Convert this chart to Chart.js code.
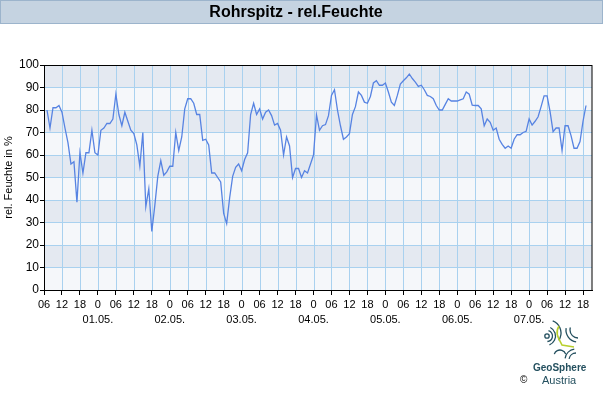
<!DOCTYPE html>
<html><head><meta charset="utf-8">
<script src="https://cdn.jsdelivr.net/npm/chart.js@4/dist/chart.umd.min.js"></script>
<style>
html,body{margin:0;padding:0;background:#fff;}
#wrap{position:relative;width:603px;height:400px;overflow:hidden;}
canvas{position:absolute;left:0;top:0;}
.logo{position:absolute;font-family:'Liberation Sans',Arial,sans-serif;color:#24505f;white-space:nowrap;line-height:1;}
</style></head><body>
<div id="wrap">
<canvas id="c" width="603" height="400"></canvas>
<div class="logo" style="left:533px;top:363px;font-size:10px;font-weight:bold;">GeoSphere</div>
<div class="logo" style="left:542px;top:375px;font-size:11px;">Austria</div>
<div class="logo" style="left:520px;top:375px;font-size:10px;color:#000">©</div>
</div>
<script>
// hourly relative humidity (%), first value at 30.04. 07:00
const relFeuchte = [
 80,72,81,81,82,79,72,65.5,56,57,
 39,61,52,61,61,71,61,60,71,72,
 74,74,76,87,78,73,79,75,71,69.5,
 64.5,55,70,37,45,26,37.5,50.5,57.5,51,
 52.5,55,55,70,62,68,80.5,85,85,83,
 78,78,66.5,67,64.5,52,52,50,48,34,
 29.5,41,50.5,54.5,56,53,58,61,78,83,
 78,80.5,76,79,80,77.5,73.3,74,71,60,
 68,64,50,54,54,50,53,52,56,60,
 77.8,71,73,73.5,77.5,86.5,89,80,73,67,
 68,69.5,78,81.5,88,86.5,83.5,83,86,92,
 93,91,91,92,88,83.5,82,86.5,91.5,93,
 94.3,96,94,92.4,90.5,91,89,86.5,86,85,
 82,80,80,82.5,85,84,84,84,84.5,85,
 88,87,82.2,82,82,80.5,73,76,74.5,71,
 72,67,64.7,63,64,63,67,69,69,70,
 70.5,76,73.3,75,77,81.5,86.3,86.3,79.3,70.4,
 72,72,62,73,73,68.6,63,63,66,75,82
];
const dayLabels = ['01.05.','02.05.','03.05.','04.05.','05.05.','06.05.','07.05.'];
const hourLabels = {0:'0',6:'06',12:'12',18:'18'};
const axisStartClock = 6;   // x axis starts 30.04. 06:00
const firstObsHour = 1;     // first observation 07:00
const axisHours = 183;

const F = "'Liberation Sans', Arial, sans-serif";
const GRID = '#a9d1ef';
const points = relFeuchte.map((v,i)=>({x:firstObsHour+i, y:v}));

const deco = {
  id:'deco',
  beforeDraw(chart){
    const {ctx, chartArea:a, scales:{x,y}} = chart;
    ctx.save();
    // title band
    ctx.fillStyle='#c5d3e1'; ctx.fillRect(0,0,603,24);
    ctx.strokeStyle='#9cb4cc'; ctx.lineWidth=1; ctx.strokeRect(0.5,0.5,602,23);
    // alternating bands
    for(let i=0;i<10;i++){
      const t=y.getPixelForValue(i*10+10), b=y.getPixelForValue(i*10);
      ctx.fillStyle = (i%2===1)?'#e4e9f1':'#f5f7fa';
      ctx.fillRect(a.left,t,a.right-a.left,b-t);
    }
    // vertical grid lines at the x ticks
    ctx.strokeStyle=GRID; ctx.lineWidth=1;
    x.ticks.forEach(t=>{
      const px=Math.round(x.getPixelForValue(t.value))+0.5;
      ctx.beginPath(); ctx.moveTo(px,a.top); ctx.lineTo(px,a.bottom); ctx.stroke();
    });
    ctx.restore();
  },
  afterDraw(chart){
    const {ctx, chartArea:a} = chart;
    ctx.save();
    ctx.strokeStyle='#000'; ctx.lineWidth=1;
    ctx.strokeRect(Math.round(a.left)+0.5, Math.round(a.top)+0.5, Math.round(a.right-a.left)-0.5, Math.round(a.bottom-a.top));
    // logo mark
    ctx.strokeStyle='#24505f'; ctx.lineWidth=1.3;
    ctx.beginPath(); ctx.arc(547,336,2.2,0,Math.PI*2); ctx.stroke();
    ctx.beginPath(); ctx.arc(547,336,5.5,-1.3,1.5); ctx.stroke();
    ctx.beginPath(); ctx.arc(546,336,9.5,-1.1,1.2); ctx.stroke();
    ctx.beginPath(); ctx.arc(548,333,13,-1.2,0.6); ctx.stroke();
    ctx.beginPath(); ctx.arc(578,330,8,Math.PI*0.5,Math.PI*1.1); ctx.stroke();
    ctx.beginPath(); ctx.arc(578,330,12,Math.PI*0.55,Math.PI*1.05); ctx.stroke();
    ctx.beginPath(); ctx.arc(576,360,7,Math.PI*1.05,Math.PI*1.5); ctx.stroke();
    ctx.beginPath(); ctx.arc(576,360,11,Math.PI*1.05,Math.PI*1.45); ctx.stroke();
    ctx.beginPath(); ctx.arc(560,356,6,Math.PI*1.1,Math.PI*1.9); ctx.stroke();
    ctx.strokeStyle='#b9d02e'; ctx.lineWidth=1.6;
    ctx.beginPath(); ctx.moveTo(559,326); ctx.bezierCurveTo(554,334,560,340,562,345); ctx.lineTo(574,347); ctx.stroke();
    ctx.restore();
  }
};

new Chart(document.getElementById('c'), {
  type:'line',
  data:{datasets:[{
    data:points, borderColor:'#5783e2', borderWidth:1.3, pointRadius:0, tension:0, fill:false
  }]},
  options:{
    responsive:false, animation:false, devicePixelRatio:1,
    layout:{padding:{left:0,right:11,top:0,bottom:70}},
    plugins:{
      legend:{display:false}, tooltip:{enabled:false},
      title:{display:true, text:'Rohrspitz - rel.Feuchte', color:'#000',
        font:{family:F, size:16, weight:'bold', lineHeight:1.2},
        padding:{top:3,bottom:42.8}}
    },
    scales:{
      x:{type:'linear', min:0, max:axisHours,
        afterBuildTicks:s=>{ s.ticks = s.ticks.filter(t=>t.value%6===0); },
        ticks:{stepSize:6, includeBounds:false, autoSkip:false, maxRotation:0, minRotation:0, color:'#000', padding:2,
          font:{family:F,size:11,lineHeight:1.4},
          callback:(v)=>{
            const clock=(axisStartClock+v)%24;
            const lab=hourLabels[clock];
            if(clock===0){ const d=Math.floor((axisStartClock+v)/24)-1; return [lab, dayLabels[d]]; }
            return lab;
          }},
        grid:{drawOnChartArea:false, color:GRID, lineWidth:1, tickColor:'#000', tickLength:5},
        border:{color:'#000', width:1},
        afterFit:s=>{ s.height=40; }
      },
      y:{min:0, max:100,
        ticks:{stepSize:10, color:'#000', padding:1, font:{family:F,size:12}},
        grid:{color:GRID, lineWidth:1, tickColor:'#000', tickLength:4},
        border:{color:'#000', width:1},
        title:{display:true, text:'rel. Feuchte in %', color:'#000', font:{family:F,size:11}, padding:{top:2,bottom:0}},
        afterFit:s=>{ s.width=44; }
      }
    }
  },
  plugins:[deco]
});
</script>
</body></html>
